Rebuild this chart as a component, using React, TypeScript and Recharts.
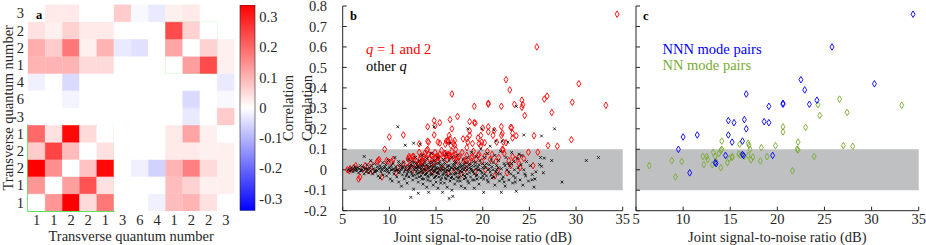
import React from 'react';
import { BarChart, Bar, Cell, XAxis, YAxis, ReferenceArea, ScatterChart, Scatter } from 'recharts';

const FONT = '"Liberation Serif", "Times New Roman", serif';
const FS = 14.5;
const INK = '#262626';
const BOX = '#22dd22';
const BAND = '#bfc0c1';
const RED = '#ff0000';
const BLUE = '#0000ff';
const GREEN = '#77ac30';

// ---------- panel a ----------
const qLabels = ['1', '1', '2', '2', '1', '3', '6', '4', '1', '2', '2', '3'];
// rows from bottom (index 0) to top, columns left to right
const corrMatrix: number[][] = [
  [0, 0.14, 0.34, 0.05, 0.18, 0, 0, -0.02, 0.09, 0.1, 0.04, 0],
  [0.14, 0, 0.13, 0.23, 0.04, 0, 0, 0, 0.09, 0.06, 0.02, 0.02],
  [0.34, 0.15, 0, 0.08, 0.33, 0, -0.02, -0.06, 0.1, 0.17, 0.05, 0.02],
  [0.07, 0.25, 0.09, 0, 0.04, 0, 0, 0, 0.03, 0.03, 0.02, 0.02],
  [0.2, 0.04, 0.33, 0.05, 0, 0, 0, 0, 0.03, 0.12, 0.02, 0],
  [0, 0, 0, 0, 0, 0, 0, 0, 0, -0.03, 0, 0.07],
  [0, 0, -0.015, 0, 0, 0, 0, 0, 0, -0.05, 0, -0.01],
  [-0.02, 0, -0.05, 0, 0, 0, 0, 0, 0, 0, 0, -0.03],
  [0.1, 0.1, 0.1, 0.05, 0.05, 0, 0, 0, 0, 0.13, 0.24, 0.02],
  [0.11, 0.07, 0.18, 0.02, 0.1, -0.03, -0.04, 0, 0.12, 0, 0.06, 0.02],
  [0.04, 0.02, 0.06, 0.03, 0.03, 0, 0, 0, 0.24, 0.06, 0, 0],
  [0, 0.03, 0.03, 0, 0, 0.07, -0.01, -0.03, 0.02, 0.03, 0, 0],
];
const colorLimit = 0.34;
const colorbarTicks = [-0.3, -0.2, -0.1, 0, 0.1, 0.2, 0.3];

// ---------- panels b, c ----------
const snrTicks = [5, 10, 15, 20, 25, 30, 35];
const corrTicks = [-0.2, -0.1, 0, 0.1, 0.2, 0.3, 0.4, 0.5, 0.6, 0.7, 0.8];

const nnnPoints: [number, number][] = [
  [34.4, 0.76], [25.8, 0.6], [22.5, 0.44], [22.9, 0.39], [30.3, 0.42], [16.7, 0.37], [19.1, 0.31],
  [20.6, 0.32], [20.6, 0.325], [23.4, 0.32], [24.2, 0.34], [14.8, 0.24], [15.4, 0.23], [16.5, 0.245],
  [16.7, 0.2], [18.6, 0.235], [19.1, 0.23], [14.8, 0.17], [15.2, 0.135], [16.3, 0.14], [10.0, 0.16],
  [11.5, 0.17], [9.5, 0.1], [10.7, -0.015], [13.5, 0.03], [13.4, 0.035], [14.5, 0.07], [16.3, 0.075],
  [16.4, 0.07], [19.5, 0.07],
];

const nnPoints: [number, number][] = [
  [6.4, 0.02], [8.8, 0.045], [9.2, -0.035], [9.85, 0.04], [12.1, 0.065], [12.2, 0.025], [12.5, 0.065],
  [12.6, 0.05], [13.2, 0.085], [13.1, 0.025], [13.4, 0.065], [13.5, 0.04], [13.8, 0.08], [14.0, 0.095],
  [14.1, 0.14], [14.0, 0.01], [14.1, 0.1], [14.7, 0.035], [14.9, 0.055], [15.2, 0.065], [15.2, 0.06],
  [16.0, 0.125], [15.9, 0.077], [16.1, 0.07], [16.5, 0.065], [16.9, 0.13], [17.0, 0.12], [17.1, 0.1],
  [16.9, 0.07], [17.2, 0.048], [17.4, 0.062], [18.2, 0.043], [18.3, 0.108], [18.9, 0.064], [19.8, 0.118],
  [20.6, 0.21], [20.6, 0.185], [21.6, -0.005], [22.1, 0.1], [22.2, 0.097], [22.2, 0.135], [23.0, 0.207],
  [23.9, 0.065], [24.3, 0.318], [24.5, 0.265], [26.6, 0.345], [27.0, 0.118], [27.4, 0.28], [28.0, 0.115],
  [33.2, 0.315],
];

const q12Extra: [number, number][] = [
  [22.0, 0.31], [26.9, 0.36], [24.2, 0.305], [29.6, 0.33],
  [14.1, 0.21], [14.9, 0.215], [17.3, 0.26], [18.6, 0.19], [19.2, 0.228], [20.0, 0.204], [21.25, 0.192],
  [22.0, 0.211], [23.1, 0.205], [23.2, 0.179], [23.2, 0.155], [23.6, 0.166], [25.5, 0.166], [21.1, 0.168],
  [18.6, 0.168], [13.2, 0.127], [14.2, 0.135], [15.4, 0.13], [16.1, 0.14], [16.5, 0.151], [17.0, 0.143],
  [17.9, 0.151], [18.4, 0.135], [19.5, 0.156], [19.9, 0.135], [21.5, 0.135], [22.5, 0.132], [29.5, 0.147],
  [24.9, 0.086], [25.9, 0.086], [19.6, 0.127], [20.2, 0.132], [19.8, 0.168], [16.25, 0.143], [16.4, 0.168],
  [16.6, 0.119], [18.3, 0.151], [18.9, 0.128], [22.1, 0.179], [22.0, 0.168],
  [5.5, 0.0], [5.7, -0.005], [5.8, 0.005], [6.2, 0.01], [6.7, -0.045], [6.85, -0.035], [7.2, 0.005],
  [7.4, 0.02], [7.75, -0.004], [8.0, 0.03], [8.2, -0.007], [8.7, 0.04], [8.9, 0.05], [9.7, 0.045],
  [10.25, 0.04], [10.4, 0.05], [10.9, 0.01], [11.5, 0.03], [12.0, 0.053], [12.2, 0.058], [12.6, 0.065],
  [12.8, 0.045], [12.9, 0.02], [13.1, 0.03], [13.3, 0.053], [13.6, 0.04], [13.7, 0.065], [13.9, 0.055],
  [14.2, 0.075], [14.3, 0.055], [14.5, 0.03], [14.6, 0.07], [14.9, 0.085], [15.0, 0.06], [15.2, 0.045],
  [15.4, 0.075], [15.6, 0.095], [15.8, 0.06], [16.0, 0.08], [16.2, 0.05], [16.4, 0.07], [16.7, 0.09],
  [16.9, 0.055], [17.1, 0.075], [17.3, 0.04], [17.5, 0.065], [17.8, 0.085], [18.0, 0.045], [18.3, 0.07],
  [18.6, 0.035], [18.8, 0.06], [19.0, 0.09], [19.3, 0.05], [19.6, 0.075], [19.9, 0.04], [20.2, 0.065],
  [20.5, 0.09], [20.8, 0.05], [21.0, 0.075], [21.4, 0.04], [21.7, 0.06], [22.3, 0.08], [22.8, 0.045],
  [23.2, 0.065], [23.5, 0.05], [23.9, 0.03], [24.4, 0.055], [25.4, 0.02], [13.5, -0.005], [14.0, 0.0],
  [14.6, -0.01], [15.1, -0.005], [15.7, 0.01], [16.3, -0.015], [17.0, 0.0], [17.7, -0.02], [18.2, 0.005],
  [19.2, -0.01], [20.3, 0.0], [21.3, -0.03], [12.5, 0.0], [11.9, 0.01], [22.6, -0.015], [23.0, 0.02],
  [24.0, 0.01],
];

const otherQPoints: [number, number][] = [
  [5.6, 0.0], [5.8, -0.005], [5.9, 0.01], [6.0, 0.0], [6.1, -0.01], [6.2, 0.005], [6.3, 0.015], [6.4, -0.005],
  [6.5, 0.0], [6.6, 0.01], [6.7, -0.015], [6.8, 0.005], [6.9, 0.02], [7.0, -0.005], [7.1, 0.0], [7.2, 0.012],
  [7.3, 0.065], [7.3, -0.02], [7.4, 0.005], [7.5, -0.01], [7.6, 0.025], [7.7, 0.0], [7.8, -0.015], [7.9, 0.01],
  [8.0, 0.045], [8.0, -0.005], [8.1, 0.02], [8.2, -0.02], [8.3, 0.005],
  [8.4, 0.03], [8.5, -0.01], [8.6, 0.0], [8.7, 0.015], [8.8, -0.03], [8.9, 0.005], [9.0, -0.04], [9.0, 0.02],
  [9.1, -0.01], [9.2, 0.0], [9.3, 0.035], [9.3, -0.025], [9.4, 0.01], [9.5, -0.005], [9.6, 0.025], [9.7, -0.03],
  [9.8, 0.0], [9.9, 0.045], [10.0, -0.015], [10.0, 0.01], [10.1, -0.045], [10.2, 0.02], [10.3, -0.055],
  [10.3, 0.0], [10.4, 0.03], [10.5, -0.02], [10.6, 0.06], [10.6, -0.005], [10.7, 0.015], [10.8, -0.035],
  [10.9, 0.21], [10.9, 0.0], [11.0, 0.04], [11.0, -0.06], [11.1, -0.01], [11.2, 0.02], [11.3, -0.08],
  [11.3, 0.005], [11.4, -0.025], [11.5, 0.035], [11.6, -0.045], [11.7, 0.12], [11.7, 0.0], [11.8, 0.015],
  [11.9, -0.065], [11.9, -0.02], [12.0, 0.05], [12.0, 0.0],
  [12.1, -0.035], [12.2, 0.02], [12.3, -0.135], [12.3, -0.01], [12.4, 0.04], [12.5, -0.05], [12.6, 0.13],
  [12.6, 0.005], [12.6, -0.095], [12.7, -0.025], [12.8, 0.06], [12.8, 0.015], [12.9, -0.04], [13.0, 0.0],
  [13.0, 0.03], [13.1, -0.115], [13.1, -0.06], [13.2, 0.045], [13.2, -0.015], [13.3, 0.125], [13.3, 0.01],
  [13.4, -0.03], [13.5, 0.07], [13.5, -0.005], [13.6, 0.025], [13.6, -0.07], [13.7, -0.045], [13.8, 0.04],
  [13.8, 0.0], [13.9, -0.02], [14.0, 0.055], [14.0, -0.085], [14.1, 0.015], [14.2, -0.11], [14.2, -0.035],
  [14.3, 0.035], [14.3, -0.005], [14.4, -0.055], [14.5, 0.02], [14.5, 0.08], [14.6, -0.02], [14.6, 0.005],
  [14.7, -0.075], [14.8, 0.21], [14.8, 0.045], [14.8, -0.04], [14.9, 0.0], [15.0, -0.06], [15.0, 0.03],
  [15.1, -0.015], [15.2, 0.06], [15.2, -0.09], [15.3, 0.01], [15.3, -0.035], [15.4, 0.04], [15.5, -0.05],
  [15.5, -0.005], [15.6, 0.02], [15.7, -0.11], [15.7, -0.025], [15.8, 0.05], [15.8, 0.0], [15.9, -0.065],
  [16.0, 0.03], [16.0, -0.04], [16.1, 0.075], [16.1, -0.01], [16.2, -0.085], [16.2, 0.015], [16.3, -0.03],
  [16.4, -0.14], [16.4, 0.045], [16.5, 0.13], [16.5, -0.055], [16.5, 0.0], [16.6, -0.02], [16.7, 0.06],
  [16.7, -0.1], [16.8, -0.13], [16.8, 0.025], [16.9, -0.045], [17.0, 0.01], [17.0, -0.07], [17.1, 0.04],
  [17.2, -0.015], [17.3, -0.055], [17.3, 0.07], [17.4, 0.0], [17.5, -0.035], [17.6, 0.03], [17.7, -0.08],
  [17.7, 0.015], [17.8, -0.01], [17.9, 0.05], [18.0, -0.045], [18.0, 0.0],
  [18.1, -0.09], [18.2, 0.035], [18.3, -0.02], [18.4, 0.2], [18.4, 0.06], [18.5, -0.065], [18.6, 0.01],
  [18.7, -0.035], [18.8, 0.085], [18.9, -0.005], [19.0, 0.04], [19.1, -0.09], [19.1, -0.05], [19.2, 0.02],
  [19.3, 0.065], [19.4, -0.025], [19.5, 0.0], [19.6, -0.07], [19.7, 0.045], [19.8, 0.1], [19.9, 0.2],
  [19.9, -0.015], [20.0, 0.03], [20.1, -0.11], [20.1, -0.045], [20.2, 0.06], [20.3, 0.01], [20.4, -0.03],
  [20.5, 0.08], [20.6, -0.06], [20.7, 0.025], [20.8, 0.115], [20.8, -0.01], [20.9, 0.05], [21.0, -0.04],
  [21.1, 0.0], [21.2, 0.195], [21.3, 0.07], [21.3, -0.075], [21.4, 0.14], [21.5, 0.02], [21.6, -0.02],
  [21.7, 0.045], [21.8, -0.055], [21.9, 0.09], [22.0, -0.11], [22.0, 0.005], [22.1, 0.14], [22.2, -0.035],
  [22.3, 0.03], [22.4, -0.08], [22.5, 0.06], [22.6, 0.0], [22.7, 0.135], [22.8, -0.05], [22.9, 0.02],
  [23.0, -0.02], [23.1, 0.085], [23.2, -0.065], [23.3, 0.04], [23.4, 0.0], [23.5, -0.04], [23.6, -0.105],
  [23.6, 0.31], [23.7, 0.055], [23.8, -0.015], [23.9, 0.075], [24.0, -0.05], [24.1, 0.025], [24.2, 0.07],
  [24.3, -0.075], [24.4, 0.17], [24.4, 0.0], [24.6, -0.03], [24.7, 0.04], [24.9, -0.055],
  [25.1, 0.02], [25.3, -0.023], [25.3, -0.049], [25.5, -0.085], [25.6, -0.045], [25.7, -0.01], [26.1, 0.025],
  [26.2, 0.06], [26.3, 0.165], [26.3, 0.017], [26.5, -0.015], [26.6, 0.057], [27.4, 0.045], [27.7, 0.2],
  [28.5, -0.06], [31.1, 0.045], [32.4, 0.06],
  [12.0, -0.01], [12.2, 0.01], [12.4, -0.02], [12.5, 0.02], [12.7, 0.0], [12.9, 0.01], [13.0, -0.02],
  [13.1, 0.015], [13.3, -0.01], [13.4, 0.005], [13.6, -0.015], [13.7, 0.02], [13.9, 0.0], [14.0, -0.015],
  [14.1, -0.03], [14.2, 0.01], [14.4, 0.0], [14.5, -0.025], [14.7, 0.015], [14.8, -0.01], [14.9, 0.02],
  [15.0, -0.03], [15.1, 0.005], [15.3, -0.02], [15.4, 0.0], [15.5, 0.025], [15.6, -0.04], [15.7, 0.015],
  [15.9, -0.01], [16.0, 0.005], [16.1, -0.025], [16.3, 0.02], [16.4, -0.005], [16.6, 0.01], [16.7, -0.035],
  [16.9, 0.0], [17.0, 0.025], [17.1, -0.02], [17.2, 0.005], [17.4, -0.04], [17.5, 0.015], [17.6, -0.005],
  [17.8, 0.02], [17.9, -0.025], [18.1, 0.01], [18.2, -0.04], [18.3, 0.0], [18.5, 0.025], [18.6, -0.015],
  [18.8, 0.005], [18.9, -0.05], [19.0, -0.01], [19.2, 0.035], [19.3, -0.03], [19.5, 0.015], [19.6, 0.0],
  [19.8, -0.04], [20.0, 0.01], [20.2, -0.02], [20.4, 0.03], [20.6, 0.0], [20.9, -0.025], [21.1, 0.035],
  [21.4, -0.01], [21.7, 0.01], [22.1, -0.045], [22.4, 0.02], [22.8, -0.01], [23.1, 0.03], [23.5, -0.06],
  [10.5, 0.005], [11.0, -0.015], [11.2, 0.0], [11.5, 0.01], [11.6, -0.01], [9.5, 0.015], [9.8, -0.01],
  [10.2, 0.0], [8.7, -0.005], [7.6, 0.005],
  [12.1, 0.005], [12.3, 0.025], [12.5, -0.03], [12.7, 0.035], [12.9, -0.01], [13.0, 0.015], [13.2, -0.035],
  [13.4, 0.02], [13.5, -0.045], [13.7, 0.005], [13.8, -0.025], [14.0, 0.025], [14.1, -0.05], [14.3, 0.015],
  [14.4, -0.02], [14.6, 0.035], [14.7, -0.005], [14.9, -0.035], [15.0, 0.01], [15.2, -0.01], [15.3, 0.03],
  [15.5, -0.065], [15.6, 0.005], [15.8, -0.02], [15.9, 0.035], [16.1, -0.045], [16.2, 0.0], [16.4, 0.02],
  [16.6, -0.04], [16.7, 0.01], [16.9, -0.02], [17.0, 0.035], [17.2, -0.035], [17.3, 0.01], [17.5, -0.015],
  [17.6, -0.055], [17.8, 0.005], [18.0, 0.025], [18.1, -0.03], [18.3, 0.015], [18.4, -0.055], [18.6, 0.03],
  [18.7, 0.0], [18.9, 0.02], [19.1, -0.02], [19.3, 0.005], [19.4, -0.045], [19.6, 0.025], [19.8, -0.005],
  [20.0, -0.03], [20.2, 0.02], [20.5, -0.05], [20.7, 0.005], [21.0, 0.015], [21.2, -0.035], [21.5, 0.0],
  [21.9, -0.02], [22.3, -0.06], [22.7, 0.03], [23.3, -0.03], [23.8, 0.01], [24.5, -0.02], [11.8, -0.03],
  [11.4, 0.015], [11.1, 0.025], [10.8, 0.0], [10.1, 0.015], [9.7, 0.005], [9.1, 0.01], [8.4, -0.01],
  [6.9, -0.005], [6.4, 0.005],
];

// ---------- helpers ----------
const toXY = (pts: [number, number][]) => pts.map(([x, y]) => ({ x, y }));
const q12Data = toXY([...nnnPoints, ...nnPoints, ...q12Extra]);
const otherData = toXY(otherQPoints);
const nnnData = toXY(nnnPoints);
const nnData = toXY(nnPoints);

const heatColor = (v: number) => {
  const t = Math.max(-1, Math.min(1, v / colorLimit));
  if (t >= 0) {
    const g = Math.round(255 * (1 - t));
    return `rgb(255,${g},${g})`;
  }
  const g = Math.round(255 * (1 + t));
  return `rgb(${g},${g},255)`;
};

const heatData = qLabels.map((_, j) => {
  const o: Record<string, number> = { col: j };
  qLabels.forEach((__, i) => {
    o['r' + i] = 1;
  });
  return o;
});
const rowTicks = qLabels.map((_, i) => i + 0.5);
const colorbarData = [{ name: 'cb', v: [-colorLimit, colorLimit] }];

const fmtCorr = (v: number) => (Math.abs(v) < 1e-9 ? '0' : String(Math.round(v * 10) / 10));
const tickStyle = { fill: INK, fontSize: FS, fontFamily: FONT };
const blank = () => '';

const makeDiamond = (color: string) => (p: any) => {
  const { cx, cy } = p;
  if (cx == null || cy == null) return <g />;
  return (
    <path
      d={`M${cx},${cy - 3.3}L${cx + 2},${cy}L${cx},${cy + 3.3}L${cx - 2},${cy}Z`}
      fill="none"
      stroke={color}
      strokeWidth={0.9}
    />
  );
};
const crossShape = (p: any) => {
  const { cx, cy } = p;
  if (cx == null || cy == null) return <g />;
  const s = 1.4;
  return (
    <path
      d={`M${cx - s},${cy - s}L${cx + s},${cy + s}M${cx - s},${cy + s}L${cx + s},${cy - s}`}
      fill="none"
      stroke="#000"
      strokeWidth={0.8}
    />
  );
};

const frameAxes = (showY: boolean) => [
  <XAxis
    key="xb"
    xAxisId="b"
    dataKey="x"
    type="number"
    domain={[5, 35]}
    ticks={snrTicks}
    interval={0}
    height={34.3}
    tickSize={-4}
    tickMargin={7}
    allowDataOverflow
    axisLine={{ stroke: INK }}
    tickLine={{ stroke: INK }}
    tick={tickStyle}
  />,
  <XAxis
    key="xt"
    xAxisId="t"
    orientation="top"
    type="number"
    domain={[5, 35]}
    ticks={snrTicks}
    interval={0}
    height={0}
    tickSize={-4}
    allowDataOverflow
    axisLine={{ stroke: INK }}
    tickLine={{ stroke: INK }}
    tickFormatter={blank}
  />,
  <YAxis
    key="yl"
    yAxisId="l"
    dataKey="y"
    type="number"
    domain={[-0.2, 0.8]}
    ticks={corrTicks}
    interval={0}
    width={showY ? 42.7 : 36}
    tickSize={-4}
    tickMargin={19.7}
    allowDataOverflow
    axisLine={{ stroke: INK }}
    tickLine={{ stroke: INK }}
    tick={tickStyle}
    tickFormatter={showY ? fmtCorr : blank}
  />,
  <YAxis
    key="yr"
    yAxisId="r"
    orientation="right"
    type="number"
    domain={[-0.2, 0.8]}
    ticks={corrTicks}
    interval={0}
    width={0}
    tickSize={-4}
    allowDataOverflow
    axisLine={{ stroke: INK }}
    tickLine={{ stroke: INK }}
    tickFormatter={blank}
  />,
];

export default function App() {
  return (
    <div
      style={{
        position: 'absolute',
        left: 0,
        top: 0,
        width: 926,
        height: 245,
        background: '#fff',
        fontFamily: FONT,
        overflow: 'hidden',
      }}
    >
      {/* panel a heatmap */}
      <div style={{ position: 'absolute', left: 0, top: 0 }}>
        <BarChart
          width={240}
          height={245}
          data={heatData}
          margin={{ top: 4.6, right: 5.6, bottom: 0, left: 0 }}
          barCategoryGap={0}
          barGap={0}
        >
          <XAxis
            dataKey="col"
            type="category"
            interval={0}
            height={34}
            axisLine={false}
            tickLine={false}
            tickSize={0}
            tickMargin={3.4}
            tick={tickStyle}
            tickFormatter={(v: number) => qLabels[v]}
          />
          <YAxis
            type="number"
            domain={[0, 12]}
            ticks={rowTicks}
            interval={0}
            width={28}
            axisLine={false}
            tickLine={false}
            tickSize={0}
            tickMargin={4}
            allowDataOverflow
            tick={tickStyle}
            tickFormatter={(v: number) => qLabels[Math.floor(v)]}
          />
          {qLabels.map((_, i) => (
            <Bar key={'r' + i} dataKey={'r' + i} stackId="h" isAnimationActive={false}>
              {heatData.map((__, j) => {
                const c = heatColor(corrMatrix[i][j]);
                return <Cell key={j} fill={c} stroke={c} strokeWidth={0.4} />;
              })}
            </Bar>
          ))}
          <ReferenceArea x1={0} x2={4} y1={0} y2={5} fill="none" stroke={BOX} strokeWidth={1.5} ifOverflow="visible" />
          <ReferenceArea x1={8} x2={10} y1={8} y2={11} fill="none" stroke={BOX} strokeWidth={1.5} ifOverflow="visible" />
        </BarChart>
      </div>

      {/* colorbar */}
      <div style={{ position: 'absolute', left: 230, top: 0 }}>
        <BarChart
          width={70}
          height={245}
          data={colorbarData}
          margin={{ top: 5, right: 0, bottom: 34.3, left: 10 }}
          barCategoryGap={0}
        >
          <defs>
            <linearGradient id="cbGrad" x1="0" y1="0" x2="0" y2="1">
              <stop offset="0%" stopColor="rgb(255,0,0)" />
              <stop offset="50%" stopColor="rgb(255,255,255)" />
              <stop offset="100%" stopColor="rgb(0,0,255)" />
            </linearGradient>
          </defs>
          <XAxis dataKey="name" type="category" hide />
          <YAxis
            orientation="right"
            type="number"
            domain={[-colorLimit, colorLimit]}
            ticks={colorbarTicks}
            interval={0}
            width={45}
            axisLine={false}
            tickLine={false}
            tickSize={0}
            tickMargin={4.3}
            allowDataOverflow
            tick={tickStyle}
            tickFormatter={fmtCorr}
          />
          <Bar dataKey="v" fill="url(#cbGrad)" stroke={INK} strokeWidth={0.6} isAnimationActive={false} />
        </BarChart>
      </div>

      {/* panel b */}
      <div style={{ position: 'absolute', left: 300, top: 0 }}>
        <ScatterChart width={335} height={245} margin={{ top: 6, right: 12.3, bottom: 0, left: 0 }}>
          {frameAxes(true)}
          <ReferenceArea xAxisId="b" yAxisId="l" x1={5} x2={35} y1={-0.1} y2={0.1} fill={BAND} fillOpacity={1} stroke="none" />
          <Scatter xAxisId="b" yAxisId="l" data={q12Data} shape={makeDiamond(RED)} isAnimationActive={false} />
          <Scatter xAxisId="b" yAxisId="l" data={otherData} shape={crossShape} isAnimationActive={false} />
        </ScatterChart>
      </div>

      {/* panel c */}
      <div style={{ position: 'absolute', left: 600, top: 0 }}>
        <ScatterChart width={326} height={245} margin={{ top: 6, right: 7.3, bottom: 0, left: 0 }}>
          {frameAxes(false)}
          <ReferenceArea xAxisId="b" yAxisId="l" x1={5} x2={35} y1={-0.1} y2={0.1} fill={BAND} fillOpacity={1} stroke="none" />
          <Scatter xAxisId="b" yAxisId="l" data={nnData} shape={makeDiamond(GREEN)} isAnimationActive={false} />
          <Scatter xAxisId="b" yAxisId="l" data={nnnData} shape={makeDiamond(BLUE)} isAnimationActive={false} />
        </ScatterChart>
      </div>

      {/* text overlay */}
      <svg
        width={926}
        height={245}
        style={{ position: 'absolute', left: 0, top: 0, pointerEvents: 'none' }}
        fontFamily={FONT}
      >
        <text x={36} y={18.5} fontSize={12.5} fontWeight="bold" fill="#000">a</text>
        <text x={350} y={20} fontSize={12.5} fontWeight="bold" fill="#000">b</text>
        <text x={643} y={19.5} fontSize={12.5} fontWeight="bold" fill="#000">c</text>

        <text x={131.2} y={240.5} fontSize={FS} fill={INK} textAnchor="middle">Transverse quantum number</text>
        <text transform="translate(12.5,107.8) rotate(-90)" fontSize={FS} fill={INK} textAnchor="middle">
          Transverse quantum number
        </text>
        <text transform="translate(293,108) rotate(-90)" fontSize={FS} fill={INK} textAnchor="middle">Correlation</text>
        <text transform="translate(312.3,108) rotate(-90)" fontSize={FS} fill={INK} textAnchor="middle">Correlation</text>

        <text x={482.7} y={241.5} fontSize={FS} fill={INK} textAnchor="middle">Joint signal-to-noise ratio (dB)</text>
        <text x={777.3} y={241.5} fontSize={FS} fill={INK} textAnchor="middle">Joint signal-to-noise ratio (dB)</text>

        <text x={366} y={54} fontSize={FS} fill={RED}>
          <tspan fontStyle="italic">q</tspan> = 1 and 2
        </text>
        <text x={366} y={70.5} fontSize={FS} fill="#000">
          other <tspan fontStyle="italic">q</tspan>
        </text>

        <text x={662.5} y={53.7} fontSize={FS} fill={BLUE}>NNN mode pairs</text>
        <text x={662.5} y={70} fontSize={FS} fill={GREEN}>NN mode pairs</text>
      </svg>
    </div>
  );
}
